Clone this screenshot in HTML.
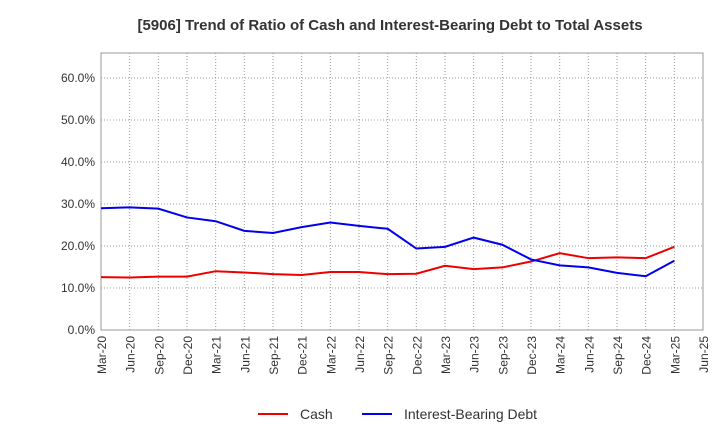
<!DOCTYPE html>
<html><head><meta charset="utf-8"><style>
body{margin:0;background:#fff;font-family:"Liberation Sans",Arial,sans-serif;}
</style></head><body>
<svg width="720" height="440" xmlns="http://www.w3.org/2000/svg">
<text x="390" y="30" text-anchor="middle" font-size="15" font-weight="bold" fill="#333">[5906]  Trend of Ratio of Cash and Interest-Bearing Debt to Total Assets</text>
<g id="grid"></g><g id="axes"></g><g id="series"></g>
<g>
<line x1="258" y1="414" x2="288" y2="414" stroke="#e00" stroke-width="2"/>
<text x="300" y="419" font-size="14" fill="#333">Cash</text>
<line x1="362" y1="414" x2="392" y2="414" stroke="#00e" stroke-width="2"/>
<text x="404" y="419" font-size="14" fill="#333">Interest-Bearing Debt</text>
</g>
</svg>
<script>
const categories=["Mar-20","Jun-20","Sep-20","Dec-20","Mar-21","Jun-21","Sep-21","Dec-21","Mar-22","Jun-22","Sep-22","Dec-22","Mar-23","Jun-23","Sep-23","Dec-23","Mar-24","Jun-24","Sep-24","Dec-24","Mar-25","Jun-25"];
const cash=[12.6,12.5,12.7,12.7,14.0,13.7,13.3,13.1,13.8,13.8,13.3,13.4,15.3,14.5,14.9,16.3,18.3,17.1,17.3,17.1,19.8];
const debt=[29.0,29.2,28.9,26.8,25.9,23.6,23.1,24.5,25.6,24.8,24.1,19.4,19.8,22.0,20.3,16.8,15.4,14.9,13.6,12.8,16.5];
const yTicks=[0,10,20,30,40,50,60];
const NS="http://www.w3.org/2000/svg";
const L=101,R=703,T=53,B=330;
const x=i=>L+i*(R-L)/(categories.length-1);
const y=v=>B-v*4.2;
function mk(tag,attrs,parent){const e=document.createElementNS(NS,tag);for(const k in attrs)e.setAttribute(k,attrs[k]);document.getElementById(parent).appendChild(e);return e;}
const g=mk("rect",{x:L,y:T,width:R-L,height:B-T,fill:"none",stroke:"#999"},"axes");


categories.forEach((c,i)=>{
  if(i>0&&i<categories.length-1){const l=mk("line",{x1:x(i),x2:x(i),y1:T,y2:B,stroke:"#999","stroke-dasharray":"1,2"},"grid");
  
  }
  const t=mk("text",{transform:`translate(${x(i)+5},${B+6}) rotate(-90)`,"text-anchor":"end","font-size":"12",fill:"#333"},"axes");
  t.textContent=c;
  
  
});
yTicks.forEach(v=>{
  if(v>0){const l=mk("line",{x1:L,x2:R,y1:y(v),y2:y(v),stroke:"#999","stroke-dasharray":"1,2"},"grid");
  
  }
  const t=mk("text",{x:L-6,y:y(v)+4,"text-anchor":"end","font-size":"12",fill:"#333"},"axes");
  t.textContent=v.toFixed(1)+"%";
  
  
});
function line(data,color,name){
  const p=mk("polyline",{points:data.map((v,i)=>x(i)+","+y(v)).join(" "),fill:"none",stroke:color,"stroke-width":"2"},"series");
  
  
}
line(cash,"#e00","cash-line");
line(debt,"#00e","debt-line");
</script>
</body></html>
